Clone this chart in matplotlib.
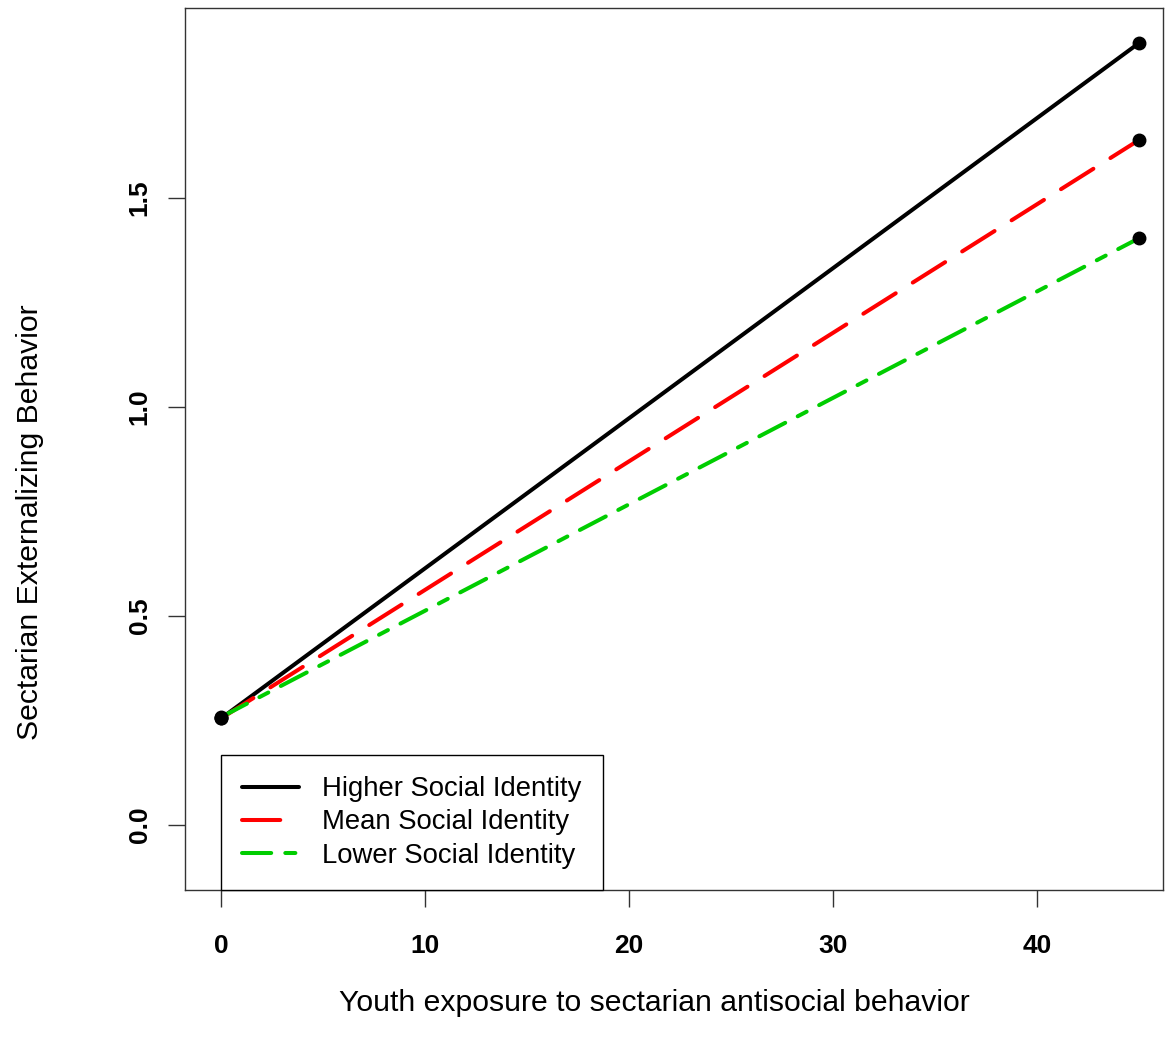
import matplotlib
matplotlib.use("Agg")
import matplotlib.pyplot as plt
from matplotlib import font_manager

# ---- data ----
x_vals = [0, 45]
higher = [0.255, 1.871]
mean_ = [0.255, 1.639]
lower = [0.258, 1.404]
series_labels = ["Higher Social Identity", "Mean Social Identity", "Lower Social Identity"]
x_ticks = [0, 10, 20, 30, 40]
y_ticks = [0.0, 0.5, 1.0, 1.5]
y_tick_labels = ["0.0", "0.5", "1.0", "1.5"]

names = {f.name for f in font_manager.fontManager.ttflist}
narrow = "Liberation Sans Narrow" if "Liberation Sans Narrow" in names else "Liberation Sans"
plt.rcParams['font.family'] = [narrow, "DejaVu Sans"]

W, H = 1173, 1051
fig = plt.figure(figsize=(W / 100, H / 100), dpi=100)
ax = fig.add_axes([185/W, 1-890/H, (1163-185)/W, (890-8)/H])
ax.set_xlim(-1.765, 46.18)
ax.set_ylim(-0.1555, 1.955)

lw = 2.9
l1, = ax.plot(x_vals, higher, color="black", lw=lw, solid_capstyle="round", label=series_labels[0])
l2, = ax.plot(x_vals, mean_, color="#ff0000", lw=lw, dashes=(9.5, 5), dash_capstyle="round", label=series_labels[1])
l3, = ax.plot(x_vals, lower, color="#00cd00", lw=lw, dashes=(7.25, 3.5, 2.5, 3.5), dash_capstyle="round", label=series_labels[2])
for ys in (higher, mean_, lower):
    ax.plot(x_vals, ys, "o", color="black", ms=9, zorder=5)

for s in ax.spines.values():
    s.set_linewidth(1.0)
    s.set_color("#333333")

ax.set_xticks(x_ticks)
ax.set_xticklabels([str(t) for t in x_ticks], fontweight="bold", fontsize=19)
ax.set_yticks(y_ticks)
ax.set_yticklabels(y_tick_labels, fontweight="bold", fontsize=19, rotation=90, va="center")
ax.tick_params(axis="both", length=12, width=1.0, color="#333333")
ax.tick_params(axis="x", pad=20)
ax.tick_params(axis="y", pad=12)

fig.text(654/W, 1-1003/H, "Youth exposure to sectarian antisocial behavior", fontsize=21.7,
         ha="center", va="center")
fig.text(30/W, 1-522/H, "Sectarian Externalizing Behavior", fontsize=21.7,
         ha="center", va="center", rotation=90)

leg = ax.legend(handles=[l1, l2, l3], loc="lower left", bbox_to_anchor=(0.0368, 0.0),
                borderaxespad=0, fancybox=False, framealpha=1, edgecolor="black",
                fontsize=19.8, handlelength=2.05, handletextpad=0.84, borderpad=0.78,
                labelspacing=0.26)
leg.get_frame().set_linewidth(1.0)

fig.savefig("out.png", dpi=100)
